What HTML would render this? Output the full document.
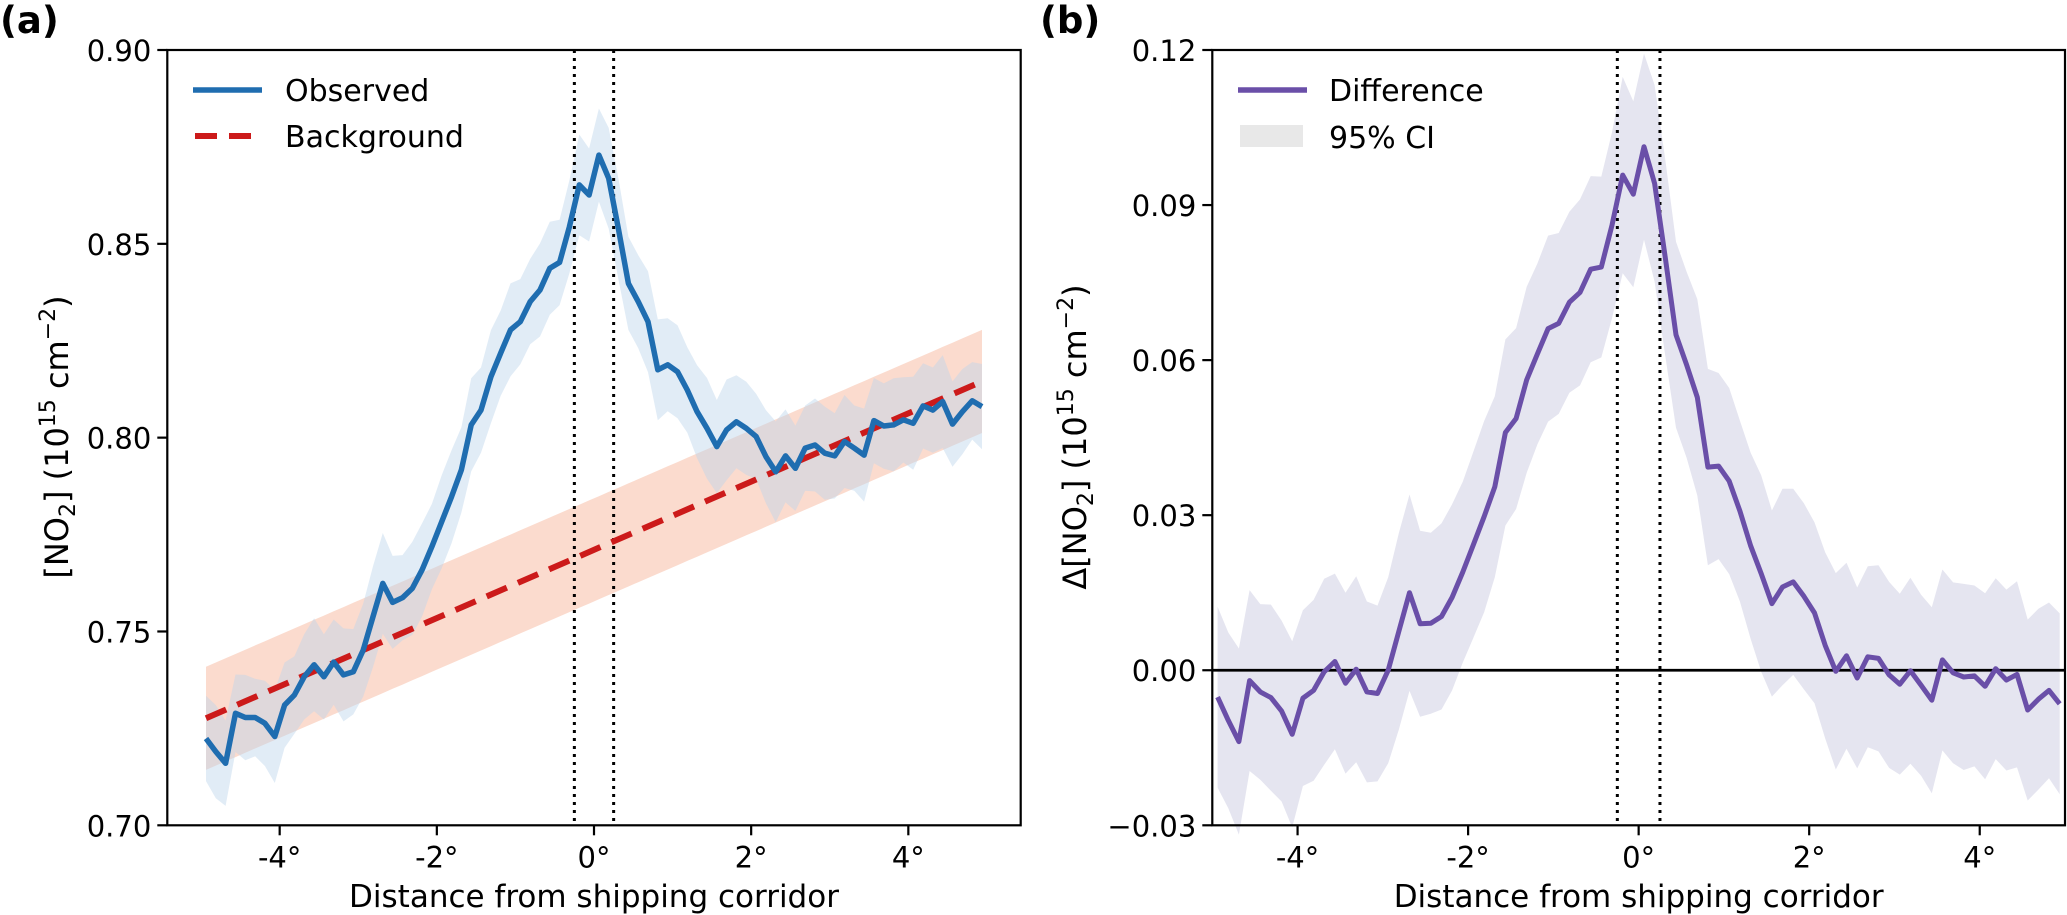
<!DOCTYPE html>
<html><head><meta charset="utf-8"><style>
html,body{margin:0;padding:0;background:#fff;}
svg{display:block;font-family:"DejaVu Sans","Liberation Sans",sans-serif;}
</style></head><body>
<svg id="fig" width="2067" height="915" viewBox="0 0 2067 915" xmlns="http://www.w3.org/2000/svg"></svg>
<script>
const xTicks = [-4, -2, 0, 2, 4];
const xTickLabels = ["-4°", "-2°", "0°", "2°", "4°"];
const aYTicks = [0.70, 0.75, 0.80, 0.85, 0.90];
const aYTickLabels = ["0.70", "0.75", "0.80", "0.85", "0.90"];
const bYTicks = [-0.03, 0.00, 0.03, 0.06, 0.09, 0.12];
const bYTickLabels = ["\u22120.03", "0.00", "0.03", "0.06", "0.09", "0.12"];
const corridor = [-0.25, 0.25];
const distances = [-4.9375,-4.8125,-4.6875,-4.5625,-4.4375,-4.3125,-4.1875,-4.0625,-3.9375,-3.8125,-3.6875,-3.5625,-3.4375,-3.3125,-3.1875,-3.0625,-2.9375,-2.8125,-2.6875,-2.5625,-2.4375,-2.3125,-2.1875,-2.0625,-1.9375,-1.8125,-1.6875,-1.5625,-1.4375,-1.3125,-1.1875,-1.0625,-0.9375,-0.8125,-0.6875,-0.5625,-0.4375,-0.3125,-0.1875,-0.0625,0.0625,0.1875,0.3125,0.4375,0.5625,0.6875,0.8125,0.9375,1.0625,1.1875,1.3125,1.4375,1.5625,1.6875,1.8125,1.9375,2.0625,2.1875,2.3125,2.4375,2.5625,2.6875,2.8125,2.9375,3.0625,3.1875,3.3125,3.4375,3.5625,3.6875,3.8125,3.9375,4.0625,4.1875,4.3125,4.4375,4.5625,4.6875,4.8125,4.9375];
const observed = [.7224,.7190,.7160,.7289,.7278,.7278,.7263,.7229,.7310,.7336,.7383,.7414,.7383,.7421,.7388,.7396,.7452,.7538,.7624,.7575,.7587,.7611,.7659,.7719,.7783,.7848,.7917,.8033,.8071,.8157,.8218,.8278,.8299,.8351,.8381,.8437,.8452,.8544,.8652,.8626,.8729,.8669,.8536,.8398,.8351,.8299,.8175,.8188,.8170,.8123,.8067,.8024,.7977,.8020,.8041,.8024,.8003,.7951,.7912,.7953,.7921,.7973,.7981,.7960,.7953,.7990,.7973,.7955,.8044,.8030,.8033,.8046,.8037,.8082,.8071,.8093,.8035,.8067,.8095,.8080];
const observedErr = [.011,.012,.011,.010,.011,.010,.011,.012,.011,.010,.011,.012,.011,.011,.012,.011,.012,.013,.013,.012,.011,.012,.012,.011,.012,.012,.011,.012,.011,.012,.011,.012,.011,.011,.012,.012,.011,.012,.013,.012,.012,.013,.013,.012,.012,.013,.013,.012,.012,.011,.012,.013,.012,.013,.012,.012,.011,.012,.013,.012,.011,.011,.012,.012,.011,.012,.011,.012,.011,.011,.012,.011,.012,.011,.011,.012,.011,.011,.010,.011];
const backgroundStart = 0.7276;
const backgroundEnd = 0.8145;
const backgroundErr = 0.0133;
const difference = [-.0052,-.0097,-.0138,-.0020,-.0042,-.0053,-.0079,-.0124,-.0054,-.0039,-.0003,.0017,-.0025,.0002,-.0042,-.0045,.0000,.0075,.0150,.0090,.0091,.0104,.0141,.0190,.0243,.0297,.0355,.0460,.0487,.0562,.0612,.0661,.0671,.0712,.0731,.0776,.0780,.0861,.0958,.0921,.1013,.0942,.0798,.0649,.0591,.0528,.0393,.0395,.0366,.0308,.0241,.0187,.0129,.0161,.0171,.0143,.0111,.0048,-.0002,.0028,-.0015,.0026,.0023,-.0009,-.0027,-.0001,-.0029,-.0058,.0020,-.0005,-.0013,-.0011,-.0031,.0003,-.0019,-.0008,-.0077,-.0056,-.0039,-.0065];
const differenceErr = [.0175,.017,.018,.0175,.017,.018,.0175,.018,.017,.0175,.018,.017,.0175,.018,.0175,.017,.018,.019,.019,.018,.0175,.018,.018,.0175,.018,.0185,.0175,.018,.0175,.018,.0175,.018,.0175,.0175,.018,.018,.0175,.018,.019,.018,.018,.019,.019,.018,.018,.019,.019,.018,.018,.0175,.018,.019,.018,.019,.018,.018,.0175,.018,.019,.018,.0175,.0175,.018,.018,.0175,.018,.0175,.018,.0175,.0175,.018,.0175,.018,.0175,.0175,.018,.0175,.0175,.017,.0175];

const NS = "http://www.w3.org/2000/svg";
const svg = document.getElementById('fig');
function mk(tag, attrs, parent){ const e=document.createElementNS(NS,tag); for(const k in attrs) e.setAttribute(k,attrs[k]); (parent||svg).appendChild(e); return e; }

const A = {l:167.3, r:1020.7, t:50, b:825.3, x0:-5.43, x1:5.43, y0:0.70, y1:0.90};
const B = {l:1212.3, r:2065, t:50, b:825.3, x0:-5.0, x1:5.0, y0:-0.03, y1:0.12};
function sx(P,v){ return P.l + (v-P.x0)/(P.x1-P.x0)*(P.r-P.l); }
function sy(P,v){ return P.b - (v-P.y0)/(P.y1-P.y0)*(P.b-P.t); }
function linePath(P, xs, ys){ return xs.map((x,i)=>(i?'L':'M')+sx(P,x).toFixed(1)+' '+sy(P,ys[i]).toFixed(1)).join(' '); }
function bandPath(P, xs, lo, hi){
  let d = xs.map((x,i)=>(i?'L':'M')+sx(P,x).toFixed(1)+' '+sy(P,hi[i]).toFixed(1)).join(' ');
  for(let i=xs.length-1;i>=0;i--) d += ' L'+sx(P,xs[i]).toFixed(1)+' '+sy(P,lo[i]).toFixed(1);
  return d+' Z';
}
function axes(P, yTicks, yLabels, name){
  const g = mk('g',{});
  
  
  xTicks.forEach((t,i)=>{
    const x = sx(P,t);
    const tk = mk('line',{x1:x,x2:x,y1:P.b,y2:P.b+10,stroke:'#000','stroke-width':2.2},g);
    
    
    const tx = mk('text',{x:x,y:P.b+42,'font-size':29,'text-anchor':'middle'},g);
    tx.textContent = xTickLabels[i];
    
    
  });
  yTicks.forEach((t,i)=>{
    const y = sy(P,t);
    const tk = mk('line',{x1:P.l-10,x2:P.l,y1:y,y2:y,stroke:'#000','stroke-width':2.2},g);
    
    
    const tx = mk('text',{x:P.l-16,y:y+11,'font-size':29,'text-anchor':'end'},g);
    tx.textContent = yLabels[i];
    
    
  });
  const fr = mk('rect',{x:P.l,y:P.t,width:P.r-P.l,height:P.b-P.t,fill:'none',stroke:'#000','stroke-width':2.2},g);
  
  
  const xl = mk('text',{x:(P.l+P.r)/2,y:907,'font-size':31,'text-anchor':'middle'},g);
  xl.textContent = 'Distance from shipping corridor';
  
  
}
function corridorLines(P, name){
  corridor.forEach(c=>{
    const l = mk('line',{x1:sx(P,c),x2:sx(P,c),y1:P.t,y2:P.b,stroke:'#000','stroke-width':3,'stroke-dasharray':'3 5'});
    
    
  });
}

// ---- Panel A ----
const bgVals = distances.map((x,i)=>backgroundStart + (backgroundEnd-backgroundStart)*i/(distances.length-1));
const bgBand = mk('path',{d:bandPath(A,distances,bgVals.map(v=>v-backgroundErr),bgVals.map(v=>v+backgroundErr)),fill:'#f8b89e','fill-opacity':0.5});


const obsBand = mk('path',{d:bandPath(A,distances,observed.map((v,i)=>v-observedErr[i]),observed.map((v,i)=>v+observedErr[i])),fill:'#bcd4ec','fill-opacity':0.45});


corridorLines(A,'panel-a');
const bgLine = mk('path',{d:linePath(A,[distances[0],distances[distances.length-1]],[backgroundStart,backgroundEnd]),fill:'none',stroke:'#cc1a1a','stroke-width':6,'stroke-dasharray':'22 12'});


const obsLine = mk('path',{d:linePath(A,distances,observed),fill:'none',stroke:'#1f6db0','stroke-width':5.5,'stroke-linejoin':'round'});


axes(A, aYTicks, aYTickLabels, 'panel-a');

// ---- Panel B ----
const ciBand = mk('path',{d:bandPath(B,distances,difference.map((v,i)=>v-differenceErr[i]),difference.map((v,i)=>v+differenceErr[i])),fill:'#e5e5f0'});


corridorLines(B,'panel-b');
const zl = mk('line',{x1:B.l,x2:B.r,y1:sy(B,0),y2:sy(B,0),stroke:'#000','stroke-width':2.8});


const diffLine = mk('path',{d:linePath(B,distances,difference),fill:'none',stroke:'#6a4fa8','stroke-width':5,'stroke-linejoin':'round'});


axes(B, bYTicks, bYTickLabels, 'panel-b');
</script>
<svg style="position:absolute;left:0;top:0" width="2067" height="915">
  <text x="0" y="33" font-size="37" font-weight="bold" font-family="DejaVu Sans, sans-serif">(a)</text>
  <text x="1040" y="33" font-size="37" font-weight="bold" font-family="DejaVu Sans, sans-serif">(b)</text>
  <text transform="translate(68,437) rotate(-90)" font-size="32" text-anchor="middle" font-family="DejaVu Sans, sans-serif">[NO<tspan font-size="22" dy="7">2</tspan><tspan dy="-7">] (10</tspan><tspan font-size="22" dy="-13">15</tspan><tspan dy="13"> cm</tspan><tspan font-size="22" dy="-13">−2</tspan><tspan dy="13">)</tspan></text>
  <text transform="translate(1086,437) rotate(-90)" font-size="32" text-anchor="middle" font-family="DejaVu Sans, sans-serif">Δ[NO<tspan font-size="22" dy="7">2</tspan><tspan dy="-7">] (10</tspan><tspan font-size="22" dy="-13">15</tspan><tspan dy="13"> cm</tspan><tspan font-size="22" dy="-13">−2</tspan><tspan dy="13">)</tspan></text>
  <g font-family="DejaVu Sans, sans-serif" font-size="30">
    <line x1="193" y1="90" x2="262" y2="90" stroke="#1f6db0" stroke-width="5.5"/>
    <text x="285" y="101">Observed</text>
    <line x1="195" y1="136" x2="262" y2="136" stroke="#cc1a1a" stroke-width="6" stroke-dasharray="22 12"/>
    <text x="285" y="147">Background</text>
  </g>
  <g font-family="DejaVu Sans, sans-serif" font-size="30">
    <line x1="1238" y1="90" x2="1307" y2="90" stroke="#6a4fa8" stroke-width="5.5"/>
    <text x="1329" y="101">Difference</text>
    <rect x="1240" y="125" width="63" height="22" fill="#e8e8e8"/>
    <text x="1329" y="148">95% CI</text>
  </g>
</svg>
</body></html>
